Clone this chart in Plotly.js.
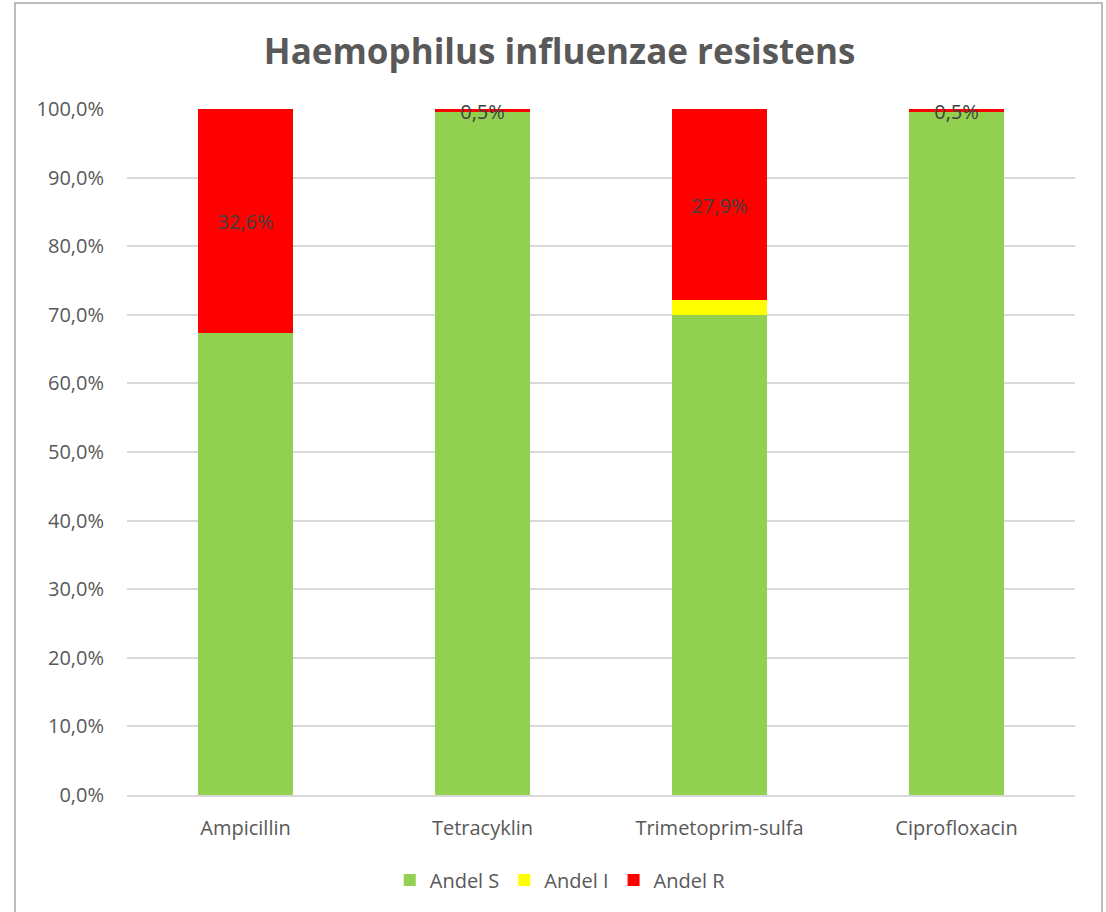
<!DOCTYPE html>
<html>
<head>
<meta charset="utf-8">
<script src="https://cdn.plot.ly/plotly-3.0.1.min.js"></script>
<style>
  html, body { margin: 0; padding: 0; background: #fff; }
  #chart { width: 1106px; height: 912px; }
</style>
</head>
<body>
<div id="chart"></div>
<script>
var antibiotics = ['Ampicillin', 'Tetracyklin', 'Trimetoprim-sulfa', 'Ciprofloxacin'];
var andelS = [67.4, 99.5, 70.0, 99.5];
var andelI = [0, 0, 2.1, 0];
var andelR = [32.6, 0.5, 27.9, 0.5];

var labelFont = { family: 'Open Sans, sans-serif', size: 20, color: '#404040' };

// R labels sit in the middle of the red segment
var labelY = antibiotics.map(function (a, i) { return andelS[i] + andelI[i] + andelR[i] / 2 - 0.5; });
var labelText = andelR.map(function (v) { return v.toFixed(1).replace('.', ',') + '%'; });

var data = [
    { x: antibiotics, y: andelS, name: 'Andel S', type: 'bar', marker: { color: '#92d050' }, hoverinfo: 'y' },
    { x: antibiotics, y: andelI, name: 'Andel I', type: 'bar', marker: { color: '#ffff00' }, hoverinfo: 'y' },
    { x: antibiotics, y: andelR, name: 'Andel R', type: 'bar', marker: { color: '#ff0000' }, hoverinfo: 'y' },
    { x: antibiotics, y: labelY, text: labelText, mode: 'text', type: 'scatter', cliponaxis: false,
      textfont: labelFont, showlegend: false, hoverinfo: 'skip' }
];

var layout = {
    width: 1106,
    height: 912,
    barmode: 'stack',
    bargap: 0.6,
    separators: ',.',
    paper_bgcolor: '#fff',
    plot_bgcolor: '#fff',
    margin: { l: 127, r: 31, t: 109, b: 117 },
    font: { family: 'Open Sans, sans-serif', color: '#595959', size: 20 },
    title: {
        text: '<b>Haemophilus influenzae resistens</b>',
        font: { family: 'Open Sans, sans-serif', size: 35, color: '#595959' },
        x: 0.506, xanchor: 'center', y: 0.943, yanchor: 'middle'
    },
    xaxis: {
        showgrid: false,
        showline: true,
        linecolor: '#d9d9d9',
        linewidth: 1.5,
        ticks: 'outside',
        ticklen: 14,
        tickcolor: 'rgba(0,0,0,0)',
        tickfont: { size: 20, color: '#595959' }
    },
    yaxis: {
        range: [0, 100],
        dtick: 10,
        tickformat: '.1f',
        ticksuffix: '%',
        gridcolor: '#d9d9d9',
        gridwidth: 1.5,
        zeroline: false,
        showline: false,
        ticks: 'outside',
        ticklen: 18,
        tickcolor: 'rgba(0,0,0,0)',
        tickfont: { size: 20, color: '#595959' }
    },
    legend: {
        orientation: 'h',
        x: 0.457, xanchor: 'center',
        y: -0.124, yanchor: 'middle',
        font: { size: 20, color: '#595959' },
        itemwidth: 20,
        traceorder: 'normal'
    },
    shapes: [{
        type: 'rect', xref: 'paper', yref: 'paper',
        x0: -112 / 948, x1: 1 + 27 / 948,
        y0: -0.2, y1: 1 + 106 / 686,
        line: { color: '#a6a6a6', width: 1.5 }
    }]
};

Plotly.newPlot('chart', data, layout, { displayModeBar: false });
</script>
</body>
</html>
